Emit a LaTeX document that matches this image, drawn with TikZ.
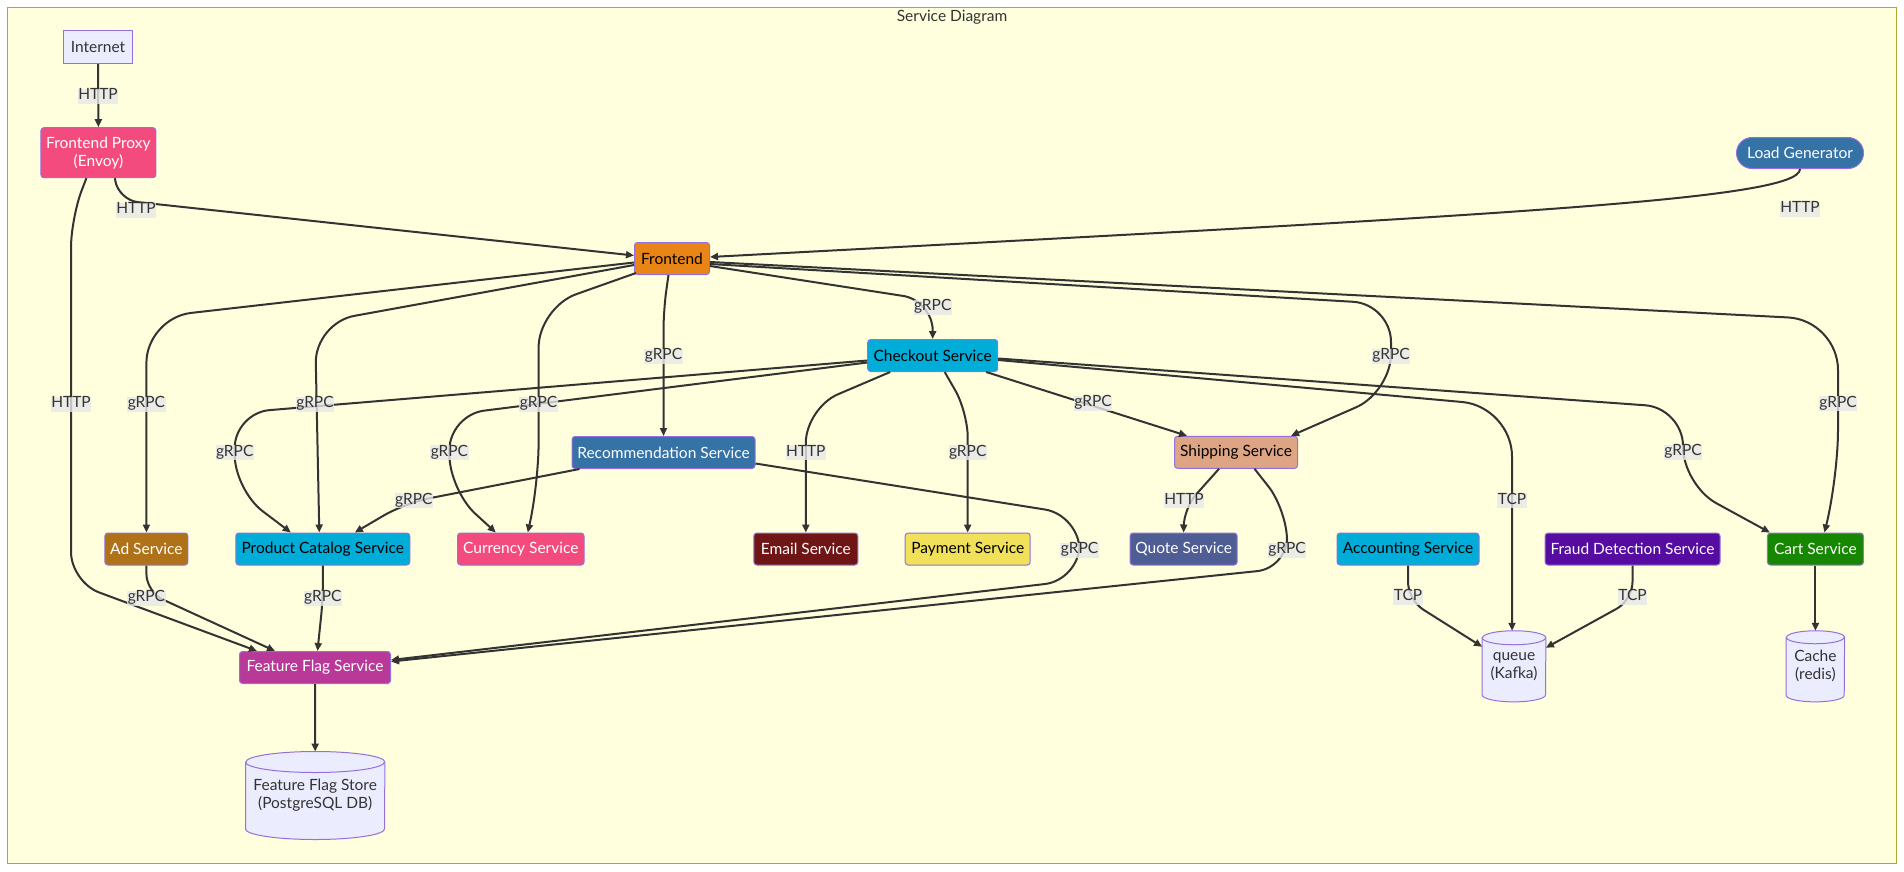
\documentclass[tikz,border=0pt]{standalone}
\usepackage{fontspec}
\setmainfont{Lato}
\usetikzlibrary{arrows.meta,calc,backgrounds}

\definecolor{cluster}{HTML}{FFFFDE}
\definecolor{clusterline}{HTML}{AAAA33}
\definecolor{nodeline}{HTML}{9370DB}
\definecolor{plainfill}{HTML}{ECECFF}
\definecolor{ink}{HTML}{333333}
\definecolor{lblfill}{HTML}{E8E8E8}
\definecolor{dotnet}{HTML}{178600}
\definecolor{cpp}{HTML}{F34B7D}
\definecolor{erlang}{HTML}{B83998}
\definecolor{golang}{HTML}{00ADD8}
\definecolor{java}{HTML}{B07219}
\definecolor{javascript}{HTML}{F1E05A}
\definecolor{kotlin}{HTML}{560BA1}
\definecolor{php}{HTML}{4F5D95}
\definecolor{python}{HTML}{3572A5}
\definecolor{ruby}{HTML}{701516}
\definecolor{rust}{HTML}{DEA584}
\definecolor{typescript}{HTML}{E98516}

\tikzset{
  svc/.style={draw=nodeline, line width=1pt, rounded corners=3pt, fill=#1,
    minimum height=32pt, inner xsep=3pt, inner ysep=2pt},
  light/.style={svc=#1, text=white},
  dark/.style={svc=#1, text=black},
  plain/.style={draw=nodeline, line width=1pt, fill=plainfill, text=ink},
  store/.style={text=ink, align=center, inner sep=0pt},
  conn/.style={draw=ink, line width=2pt, rounded corners=#1,
    -{Triangle[length=8pt,width=7pt]}},
  conn/.default=30pt,
  lbl/.style={fill=lblfill, fill opacity=0.8, text opacity=1, text=ink,
    inner xsep=0.5pt, inner ysep=0pt, text height=11pt, text depth=4pt}
}

% cylinder round a store node: node, x radius, y radius of the ends
\newcommand{\dbdraw}[3]{%
  \draw[plain] ($(#1.north west)+(0,#3)$) -- ($(#1.south west)+(0,-#3)$)
    arc[start angle=180, end angle=360, x radius=#2pt, y radius=#3pt]
    -- ($(#1.north east)+(0,#3)$)
    arc[start angle=0, end angle=180, x radius=#2pt, y radius=#3pt] -- cycle;
  \draw[plain, fill=none] ($(#1.north west)+(0,#3)$)
    arc[start angle=180, end angle=360, x radius=#2pt, y radius=#3pt];
}

\begin{document}
\begin{tikzpicture}[x=1pt, y=-1pt, font=\fontsize{15.5}{18}\selectfont]
  \useasboundingbox (0,0) rectangle (1904,871);
  % Cluster
  \begin{scope}[on background layer]
    \fill[white] (0,0) rectangle (1904,871);
    \draw[clusterline, fill=cluster, line width=1pt] (7.5,7.5) rectangle (1896.5,863.5);
  \end{scope}
  \node[text=ink] (title) at (952,17.5) {Service Diagram};

  % Entry points
  \node[plain, minimum width=69pt, minimum height=33pt] (internet) at (98,47) {Internet};
  \node[light=cpp, minimum width=115pt, minimum height=50pt, align=center] (proxy) at (98.4,152.7) {Frontend Proxy\\(Envoy)};
  \node[light=python, minimum width=127pt, minimum height=31pt, rounded corners=15.5pt] (loadgen) at (1800,153) {Load Generator};
  \node[dark=typescript, minimum width=75pt] (frontend) at (672,258.5) {Frontend};

  % Services
  \node[dark=golang, minimum width=130pt] (checkout) at (932.7,355.5) {Checkout Service};
  \node[light=python, minimum width=183pt] (recommend) at (663.5,452.5) {Recommendation Service};
  \node[dark=rust, minimum width=123pt] (shipping) at (1236,452.3) {Shipping Service};
  \node[light=java, minimum width=83pt] (ad) at (146.4,549) {Ad Service};
  \node[dark=golang, minimum width=174pt] (catalog) at (322.8,549) {Product Catalog Service};
  \node[light=cpp, minimum width=126.5pt] (currency) at (520.8,549) {Currency Service};
  \node[light=ruby, minimum width=104pt] (email) at (805.8,549) {Email Service};
  \node[dark=javascript, minimum width=125pt] (payment) at (967.7,549) {Payment Service};
  \node[light=php, minimum width=107pt] (quote) at (1183.6,549) {Quote Service};
  \node[dark=golang, minimum width=142pt] (accounting) at (1408,549) {Accounting Service};
  \node[light=kotlin, minimum width=175pt] (fraud) at (1632.5,549) {Fraud Detection Service};
  \node[light=dotnet, minimum width=96pt] (cart) at (1815.4,549) {Cart Service};
  \node[light=erlang, minimum width=151pt] (ffservice) at (315,667.5) {Feature Flag Service};

  % Data stores
  \node[store, minimum width=139pt, minimum height=87.6pt] (ffstore) at (315.2,795.5) {Feature Flag Store\\(PostgreSQL DB)};
  \node[store, minimum width=63.4pt, minimum height=70.7pt] (queue) at (1514,666.3) {queue\\(Kafka)};
  \node[store, minimum width=58pt, minimum height=70.7pt] (cache) at (1815.4,666.3) {Cache\\(redis)};
  \begin{scope}[on background layer]
    \dbdraw{ffstore}{69.5}{10.5}
    \dbdraw{queue}{31.7}{7}
    \dbdraw{cache}{29}{6.5}
  \end{scope}

  % Label points
  \coordinate (l-net) at (98,96);
  \coordinate (l-proxy) at (136,210);
  \coordinate (l-load) at (1800,209);
  \coordinate (l-flag) at (71,404);
  \coordinate (l-ad) at (146.4,404);
  \coordinate (l-cat) at (315,404);
  \coordinate (l-cur) at (538.6,404);
  \coordinate (l-rec) at (663.5,356);
  \coordinate (l-chk) at (932.7,307);
  \coordinate (l-shp) at (1391,356);
  \coordinate (l-crt) at (1838,403.5);
  \coordinate (l-chk-cat) at (234.7,452.5);
  \coordinate (l-chk-cur) at (449.4,452.5);
  \coordinate (l-chk-eml) at (805.8,452.7);
  \coordinate (l-chk-pay) at (967.7,452.7);
  \coordinate (l-chk-shp) at (1093,403.3);
  \coordinate (l-chk-que) at (1512,500.5);
  \coordinate (l-chk-crt) at (1683,452);
  \coordinate (l-rec-cat) at (413.8,500.7);
  \coordinate (l-rec-ffs) at (1079.5,550);
  \coordinate (l-shp-quo) at (1184,500.7);
  \coordinate (l-shp-ffs) at (1287,550);
  \coordinate (l-ad-ffs) at (146.4,598);
  \coordinate (l-cat-ffs) at (322.8,598);
  \coordinate (l-acc-que) at (1408,597);
  \coordinate (l-frd-que) at (1632.5,597);

  % Ingress
  \draw[conn] (internet.south) -- (proxy.north);
  \draw[conn=20pt] ($(proxy.south)+(16.5,0)$) -- (118,200) -- ($(frontend.west)+(0,-3)$);
  \draw[conn] (loadgen.south) .. controls +(0,31) and +(790,-42) .. ($(frontend.east)+(0,-1.5)$);
  \draw[conn] ($(proxy.south)+(-12,0)$) -- (71,218) -- (71,582) -- ($(ffservice.north west)+(18,0)$);

  % Frontend calls
  \draw[conn=45pt] ($(frontend.west)+(0,4)$) -- (146.4,318) -- (ad.north);
  \draw[conn=40pt] ($(frontend.west)+(0,6.5)$) -- (315,323) -- ($(catalog.north)+(-3.5,0)$);
  \draw[conn=40pt] ($(frontend.south west)+(2,-2)$) -- (538.6,307.5) -- (538.6,483) -- ($(currency.north)+(7,0)$);
  \draw[conn=20pt] ($(frontend.south)+(-3.5,0)$) -- (663.5,310) -- (recommend.north);
  \draw[conn] ($(frontend.east)+(0,7.5)$) -- (932.7,300.5) -- (checkout.north);
  \draw[conn=38pt] ($(frontend.east)+(0,5.5)$) -- (1391,304) -- (1391,392) -- ($(shipping.north)+(55,0)$);
  \draw[conn=50pt] ($(frontend.east)+(0,3.5)$) -- (1838,320) -- (1838,480) -- ($(cart.north)+(9,0)$);

  % Checkout calls
  \draw[conn=35pt] ($(checkout.west)+(0,5)$) -- (234.7,413) -- (234.7,490) -- ($(catalog.north)+(-32,0)$);
  \draw[conn=35pt] ($(checkout.west)+(0,7)$) -- (449.4,415) -- (449.4,490) -- ($(currency.north)+(-25,0)$);
  \draw[conn=35pt] ($(checkout.south west)+(23,0)$) -- (805.8,408) -- (email.north);
  \draw[conn=25pt] ($(checkout.south)+(12,0)$) -- (967.7,412) -- (payment.north);
  \draw[conn] ($(checkout.south east)+(-12,0)$) -- ($(shipping.north)+(-49,0)$);
  \draw[conn=50pt] ($(checkout.east)+(0,4.5)$) -- (1512,406.5) -- ($(queue.north)+(-2,0)$);
  \draw[conn=38pt] ($(checkout.east)+(0,3)$) -- (1683,408) -- (1683,485) -- ($(cart.north west)+(3,0)$);

  % Downstream calls
  \draw[conn=25pt] ($(recommend.south west)+(8,0)$) -- (405,503) -- ($(catalog.north)+(32,0)$);
  \draw[conn=35pt] ($(recommend.east)+(0,11)$) -- (1079.5,515) -- (1079.5,580) -- ($(ffservice.east)+(0,-7.5)$);
  \draw[conn=18pt] ($(shipping.south)+(-17,0)$) -- (1184,508) -- (quote.north);
  \draw[conn=30pt] ($(shipping.south)+(18.5,0)$) -- (1287,510) -- (1287,568) -- ($(ffservice.east)+(0,-6)$);
  \draw[conn=18pt] (ad.south) -- (146.4,592) -- ($(ffservice.north west)+(36,0)$);
  \draw[conn=15pt] (catalog.south) -- (322.8,600) -- ($(ffservice.north)+(2.5,0)$);
  \draw[conn] (ffservice.south) -- (ffstore.north);
  \draw[conn=18pt] (accounting.south) -- (1408,600) -- ($(queue.north west)+(0,16)$);
  \draw[conn=18pt] (fraud.south) -- (1632.5,600) -- ($(queue.north east)+(0,17)$);
  \draw[conn] (cart.south) -- (cache.north);

  % Labels
  \foreach \pt/\txt in {l-net/HTTP, l-proxy/HTTP, l-load/HTTP, l-flag/HTTP,
      l-chk-eml/HTTP, l-shp-quo/HTTP, l-ad/gRPC, l-cat/gRPC, l-cur/gRPC,
      l-rec/gRPC, l-chk/gRPC, l-shp/gRPC, l-crt/gRPC, l-chk-cat/gRPC,
      l-chk-cur/gRPC, l-chk-pay/gRPC, l-chk-shp/gRPC, l-chk-crt/gRPC,
      l-rec-cat/gRPC, l-rec-ffs/gRPC, l-shp-ffs/gRPC, l-ad-ffs/gRPC,
      l-cat-ffs/gRPC, l-chk-que/TCP, l-acc-que/TCP, l-frd-que/TCP}
    \node[lbl] (t\pt) at (\pt) {\txt};
\end{tikzpicture}
\end{document}
